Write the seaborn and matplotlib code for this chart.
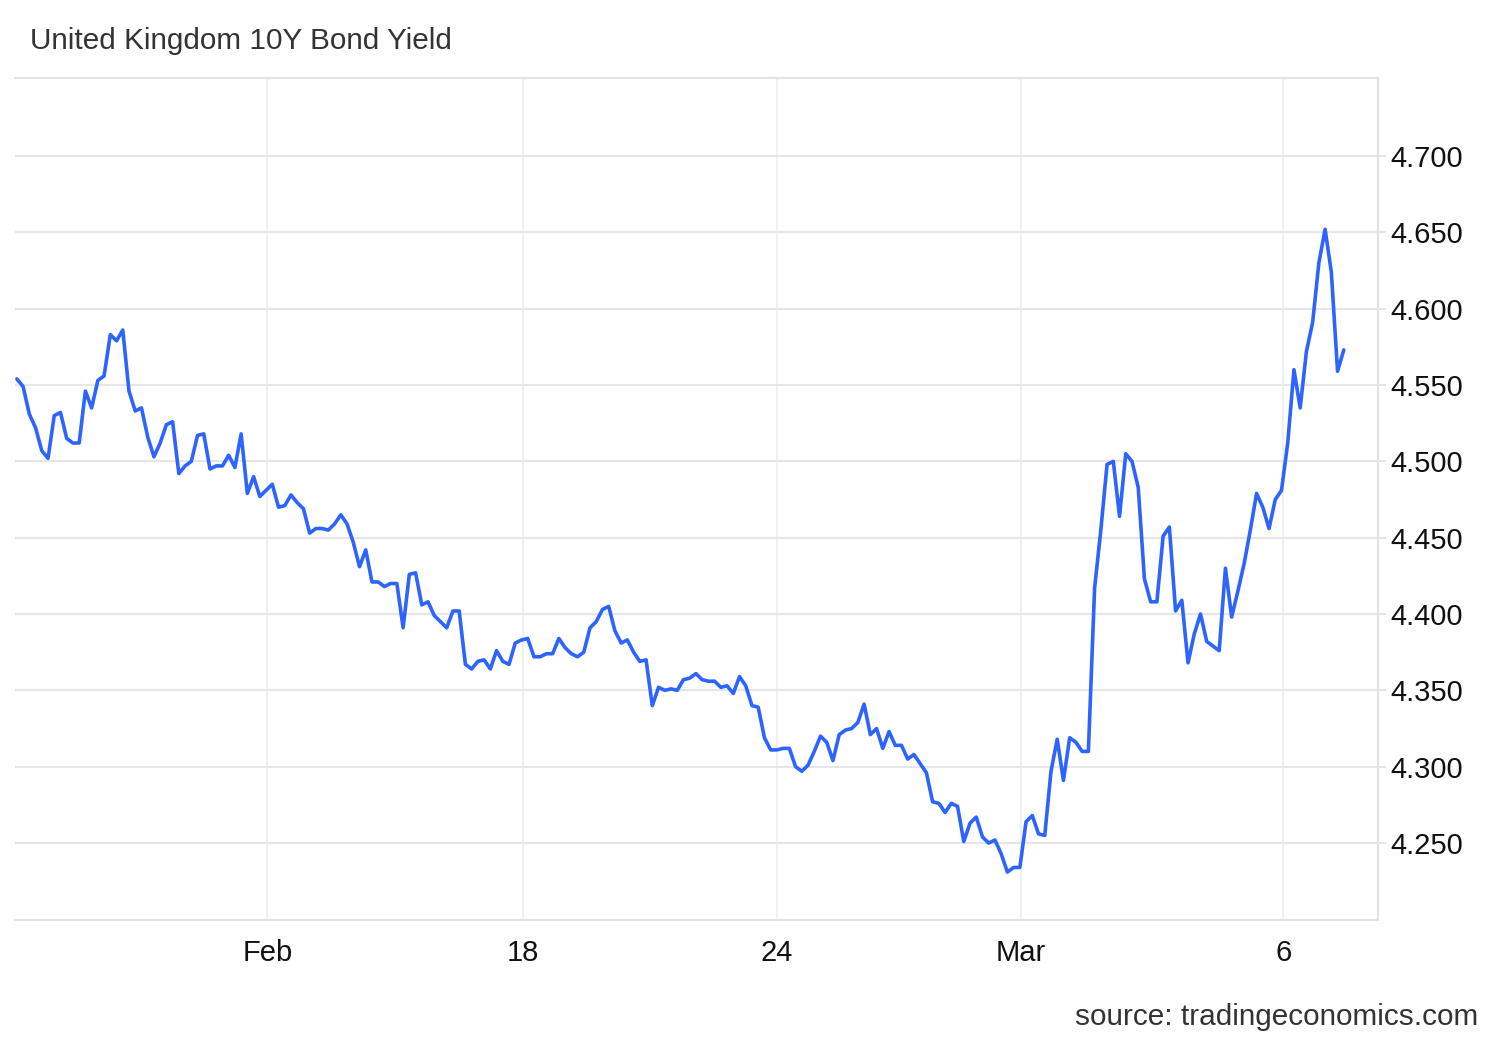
import numpy as np
import pandas as pd
import seaborn as sns
import matplotlib.pyplot as plt

# Data (one value per intraday step)
yield_values = [
    4.554, 4.549, 4.531, 4.522, 4.507, 4.502, 4.530, 4.532, 4.515, 4.512,
    4.512, 4.546, 4.535, 4.553, 4.556, 4.583, 4.579, 4.586, 4.546, 4.533,
    4.535, 4.516, 4.503, 4.512, 4.524, 4.526, 4.492, 4.497, 4.500, 4.517,
    4.518, 4.495, 4.497, 4.497, 4.504, 4.496, 4.518, 4.479, 4.490, 4.477,
    4.481, 4.485, 4.470, 4.471, 4.478, 4.473, 4.469, 4.453, 4.456, 4.456,
    4.455, 4.459, 4.465, 4.459, 4.447, 4.431, 4.442, 4.421, 4.421, 4.418,
    4.420, 4.420, 4.391, 4.426, 4.427, 4.406, 4.408, 4.399, 4.395, 4.391,
    4.402, 4.402, 4.367, 4.364, 4.369, 4.370, 4.364, 4.376,
    4.369, 4.367, 4.381, 4.383, 4.384, 4.372, 4.372, 4.374, 4.374, 4.384,
    4.378, 4.374, 4.372, 4.375, 4.391, 4.395, 4.403, 4.405, 4.389, 4.381,
    4.383, 4.375, 4.369, 4.370, 4.340, 4.352, 4.350, 4.351, 4.350, 4.357,
    4.358, 4.361, 4.357, 4.356, 4.356, 4.352, 4.353, 4.348, 4.359,
    4.353, 4.340, 4.339, 4.319, 4.311, 4.311, 4.312, 4.312, 4.300, 4.297,
    4.301, 4.310, 4.320, 4.316, 4.304, 4.321, 4.324, 4.325, 4.329, 4.341,
    4.321, 4.325, 4.312, 4.323, 4.314, 4.314, 4.305, 4.308, 4.302, 4.296,
    4.277, 4.276, 4.270, 4.276, 4.274, 4.251, 4.263, 4.267,
    4.254, 4.250, 4.252, 4.243, 4.231, 4.234, 4.234, 4.264, 4.268, 4.256,
    4.255, 4.297, 4.318, 4.291, 4.319, 4.316, 4.310, 4.310, 4.417, 4.455,
    4.498, 4.500, 4.464, 4.505, 4.500, 4.483, 4.423, 4.408, 4.408, 4.451,
    4.457, 4.402, 4.409, 4.368, 4.387, 4.400, 4.382, 4.379, 4.376,
    4.430, 4.398, 4.415, 4.433, 4.455, 4.479, 4.470, 4.456, 4.475, 4.481,
    4.512, 4.560, 4.535, 4.572, 4.591, 4.630, 4.652, 4.624, 4.559, 4.573,
]
date_ticks = [40.2, 81.3, 122.0, 161.2, 203.3]
date_labels = ['Feb', '18', '24', 'Mar', '6']
yield_ticks = [4.25, 4.30, 4.35, 4.40, 4.45, 4.50, 4.55, 4.60, 4.65, 4.70]

df = pd.DataFrame({'step': np.arange(len(yield_values)), 'yield': yield_values})

sns.set_theme(style='white')
plt.rcParams['font.family'] = ['Liberation Sans', 'DejaVu Sans']

fig = plt.figure(figsize=(15, 10.4), dpi=100)
ax = fig.add_axes([0.01, 0.1154, 0.9087, 0.8096])

sns.lineplot(data=df, x='step', y='yield', ax=ax, color='#2d64ff', linewidth=2.6)

ax.set_xlim(-0.3, 218.5)
ax.set_ylim(4.1996, 4.7511)

ax.set_xticks(date_ticks)
ax.set_xticklabels(date_labels)
ax.set_yticks(yield_ticks)
ax.set_yticklabels([f'{v:.3f}' for v in yield_ticks])

ax.yaxis.tick_right()
ax.tick_params(axis='y', length=6, width=1.2, color='#e0e0e0', pad=3,
               labelsize=21, labelcolor='#111111')
ax.tick_params(axis='x', length=0, pad=14, labelsize=21, labelcolor='#111111')

ax.grid(axis='y', color='#e6e6e6', linewidth=1.5)
ax.grid(axis='x', color='#eef1f5', linewidth=1.5)

for side in ['top', 'bottom', 'right']:
    ax.spines[side].set_color('#e3e3e3')
    ax.spines[side].set_linewidth(1.5)
ax.spines['left'].set_visible(False)

ax.set_xlabel('')
ax.set_ylabel('')

fig.text(30 / 1500, 1 - 41 / 1040, 'United Kingdom 10Y Bond Yield',
         fontsize=21.4, color='#333333', va='center', ha='left')
fig.text(1478 / 1500, 1 - 1017 / 1040, 'source: tradingeconomics.com',
         fontsize=21.4, color='#333333', va='center', ha='right')

fig.savefig('out.png', dpi=100)
